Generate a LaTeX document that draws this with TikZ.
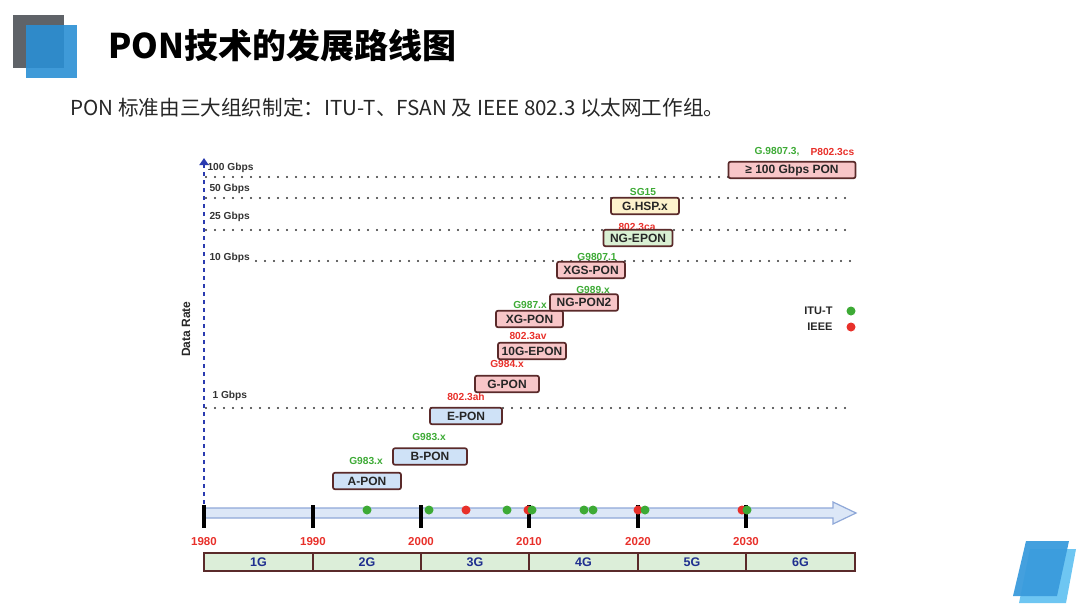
\documentclass[tikz,border=0pt]{standalone}
\usepackage{fontspec}
\setmainfont{Liberation Sans}
\newfontfamily\cjk{Noto Sans CJK SC}
\usetikzlibrary{arrows.meta}
\definecolor{itu}{HTML}{3DAA35}
\definecolor{ieee}{HTML}{E8302A}
\definecolor{edge}{HTML}{5A2A2A}
\definecolor{pblue}{HTML}{CFE2F7}
\definecolor{ppink}{HTML}{F8C6C8}
\definecolor{pgreen}{HTML}{D9F0D3}
\definecolor{pyellow}{HTML}{FDF2CC}
\definecolor{gencell}{HTML}{DCEED9}
\definecolor{gentext}{HTML}{1F2F8F}
\definecolor{axisblue}{HTML}{2B3BB0}
\definecolor{bandfill}{HTML}{DCE7F7}
\definecolor{banddraw}{HTML}{8FA8D8}
\definecolor{squaregray}{HTML}{5F6368}
\definecolor{squareblue}{HTML}{2A8FD4}
\definecolor{decoback}{HTML}{6EC6F2}
\definecolor{decofront}{HTML}{3A9BDC}

\begin{document}
\begin{tikzpicture}[x=1pt,y=-1pt,
    pon/.style={draw=edge,line width=1.7pt,rounded corners=2pt,minimum height=16.5pt,
      inner sep=0pt,text=black!85,font=\fontsize{12}{13}\selectfont\bfseries},
    std/.style={font=\fontsize{10.2}{11}\selectfont\bfseries},
    rate/.style={anchor=west,text=black!80,font=\fontsize{10.2}{11}\selectfont\bfseries},
    level/.style={black!80,line width=2.4pt,line cap=round,dash pattern=on 0pt off 9pt},
    yeartick/.style={line width=4pt},
    dot/.style={circle,inner sep=0pt,minimum size=9pt},
  ]
  \useasboundingbox (0,0) rectangle (1080,608);

  % title area
  \fill[squaregray] (13,15) rectangle (64,68);
  \fill[squareblue,opacity=0.9] (26,25) rectangle (77,78);
  \node[anchor=west] (title) at (105,46) {\cjk\fontsize{34}{38}\selectfont\bfseries PON技术的发展路线图};
  \node[anchor=west,text=black!85] (intro) at (67,108) {\cjk\fontsize{20.6}{24}\selectfont PON 标准由三大组织制定：ITU-T、FSAN 及 IEEE 802.3 以太网工作组。};

  % data rate levels
  \coordinate (l100a) at (206,177); \coordinate (l100b) at (728,177);
  \coordinate (l50a) at (206,198);  \coordinate (l50b) at (852,198);
  \coordinate (l25a) at (206,230);  \coordinate (l25b) at (852,230);
  \coordinate (l10a) at (256,261);  \coordinate (l10b) at (852,261);
  \coordinate (l1a) at (206,408);   \coordinate (l1b) at (852,408);
  \draw[level] (l100a) -- (l100b);
  \draw[level] (l50a) -- (l50b);
  \draw[level] (l25a) -- (l25b);
  \draw[level] (l10a) -- (l10b);
  \draw[level] (l1a) -- (l1b);
  \node[rate] (r100) at (204,168) {100 Gbps};
  \node[rate] (r50) at (206,189) {50 Gbps};
  \node[rate] (r25) at (206,217) {25 Gbps};
  \node[rate] (r10) at (206,258) {10 Gbps};
  \node[rate] (r1) at (209,396) {1 Gbps};
  \node[rotate=90,text=black!85,font=\fontsize{12}{13}\selectfont\bfseries] (rateaxis) at (186,329) {Data Rate};

  % time axis
  \fill[bandfill,draw=banddraw,line width=1.2pt] (204,508) -- (833,508) -- (833,502) -- (856,513)
    -- (833,524) -- (833,518) -- (204,518) -- cycle;
  \foreach \x/\yr in {204/1980,313/1990,421/2000,529/2010,638/2020,746/2030} {
      \draw[yeartick] (\x,505) -- (\x,528);
      \node[text=ieee,font=\fontsize{11.5}{12}\selectfont\bfseries] at (\x,542) {\yr};
  }
  \coordinate (yo) at (204,504);
  \coordinate (ytop) at (204,158);
  \draw[axisblue,line width=2.6pt,dash pattern=on 4.5pt off 3.5pt,-{Triangle[length=7pt,width=9pt]}] (yo) -- (ytop);

  % standard releases
  \foreach \x in {367,429,507,584,593} {
      \node[dot,fill=itu] at (\x,510) {};
  }
  \foreach \x in {466,528,638,742} {
      \node[dot,fill=ieee] at (\x,510) {};
  }
  \node[dot,fill=itu] at (532,510) {};
  \node[dot,fill=itu] at (645,510) {};
  \node[dot,fill=itu] at (747,510) {};

  % generations
  \foreach \xa/\xb/\g in {204/313/1G,313/421/2G,421/529/3G,529/638/4G,638/746/5G,746/855/6G} {
      \draw[edge,fill=gencell,line width=1.6pt] (\xa,553) rectangle (\xb,571);
      \node[text=gentext,font=\fontsize{12.5}{13}\selectfont\bfseries] at ({(\xa+\xb)/2},562) {\g};
  }

  % pon technologies
  \node[std,text=itu] (sa) at (366,461) {G983.x};
  \node[std,text=itu] (sb) at (429,437) {G983.x};
  \node[std,text=ieee] (se) at (466,397) {802.3ah};
  \node[std,text=ieee] (sg) at (507,364) {G984.x};
  \node[std,text=ieee] (s10g) at (528,336) {802.3av};
  \node[std,text=itu] (sxg) at (530,305) {G987.x};
  \node[std,text=itu] (sng) at (593,290) {G989.x};
  \node[std,text=itu] (sxgs) at (597,257) {G9807.1};
  \node[std,text=ieee] (sne) at (637,227) {802.3ca};
  \node[std,text=itu] (shsp) at (643,192) {SG15};
  \node[std,text=itu,anchor=east] (s100a) at (803,152) {G.9807.3,};
  \node[std,text=ieee,anchor=west] (s100b) at (807,152) {P802.3cs};

  \node[pon,fill=pblue,minimum width=68pt] (apon) at (367,481) {A-PON};
  \node[pon,fill=pblue,minimum width=74pt] (bpon) at (430,456.5) {B-PON};
  \node[pon,fill=pblue,minimum width=72pt] (epon) at (466,416) {E-PON};
  \node[pon,fill=ppink,minimum width=64pt] (gpon) at (507,384) {G-PON};
  \node[pon,fill=ppink,minimum width=68pt] (tgepon) at (532,351) {10G-EPON};
  \node[pon,fill=ppink,minimum width=67pt] (xgpon) at (529.5,319) {XG-PON};
  \node[pon,fill=ppink,minimum width=68pt] (ngpon) at (584,302.5) {NG-PON2};
  \node[pon,fill=ppink,minimum width=68pt] (xgspon) at (591,270) {XGS-PON};
  \node[pon,fill=pgreen,minimum width=69pt] (ngepon) at (638,238) {NG-EPON};
  \node[pon,fill=pyellow,minimum width=68pt] (ghsp) at (645,206) {G.HSP.x};
  \node[pon,fill=ppink,minimum width=127pt] (hpon) at (792,170) {≥ 100 Gbps PON};

  % legend
  \node[anchor=east,text=black!85,font=\fontsize{11}{12}\selectfont\bfseries] (kitu) at (836,311) {ITU-T};
  \node[anchor=east,text=black!85,font=\fontsize{11}{12}\selectfont\bfseries] (kieee) at (836,327) {IEEE};
  \node[dot,fill=itu] (ditu) at (851,311) {};
  \node[dot,fill=ieee] (dieee) at (851,327) {};

  % corner decoration
  \fill[decoback] (1030,549) -- (1076,549) -- (1066,603) -- (1019,603) -- cycle;
  \fill[decofront,opacity=0.95] (1026,541) -- (1069,541) -- (1057,596) -- (1013,596) -- cycle;
\end{tikzpicture}
\end{document}
